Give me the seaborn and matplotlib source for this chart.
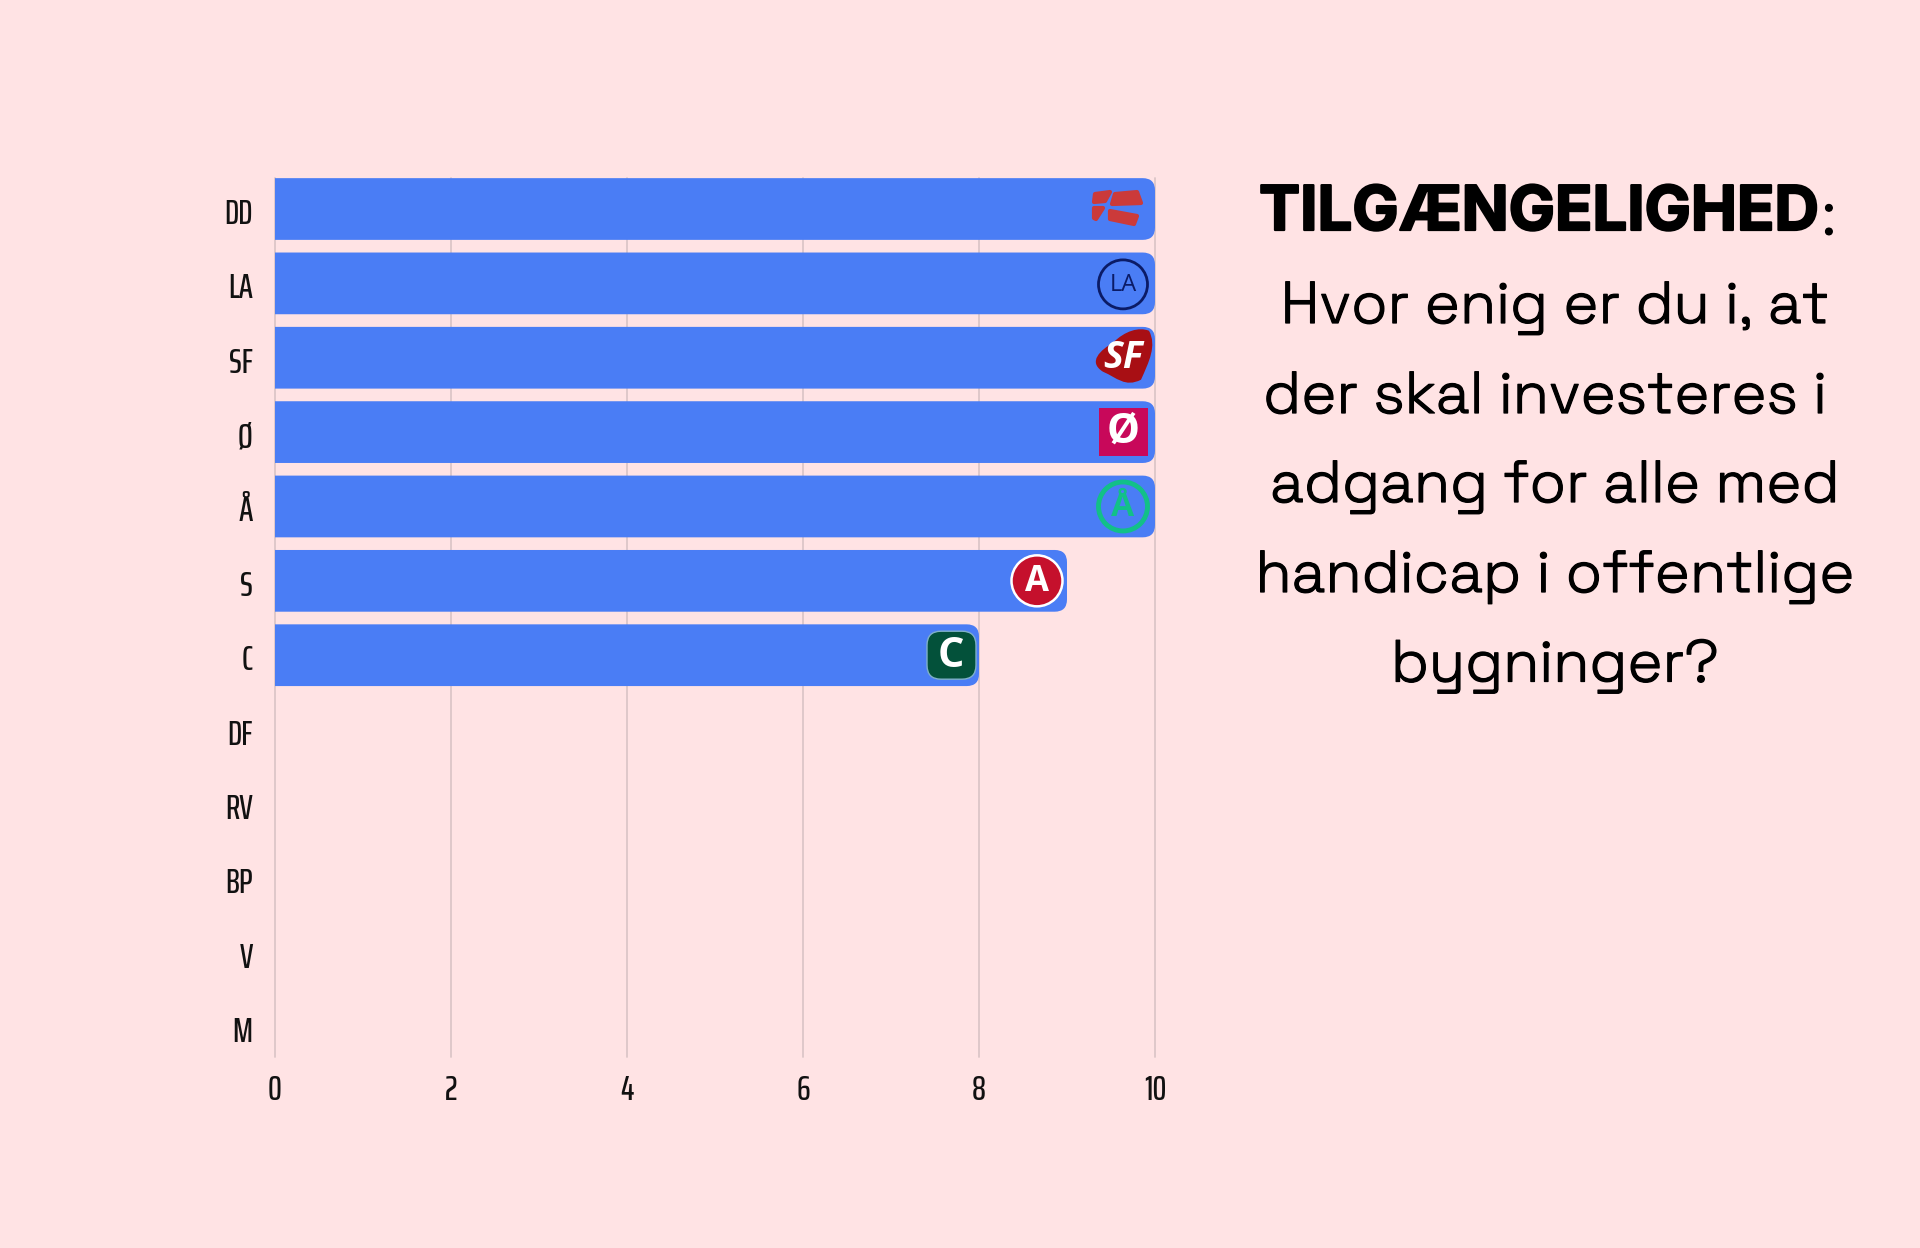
import matplotlib
matplotlib.use("Agg")
import matplotlib.pyplot as plt
import matplotlib.patheffects as pe
import pandas as pd
import seaborn as sns
from matplotlib.patches import Ellipse, FancyBboxPatch, PathPatch, Polygon, Rectangle
from matplotlib.path import Path
from matplotlib.transforms import ScaledTranslation

partier = ["DD", "LA", "SF", "Ø", "Å", "S", "C", "DF", "RV", "BP", "V", "M"]
vaerdier = [10, 10, 10, 10, 10, 9, 8, 0, 0, 0, 0, 0]
x_ticks = [0, 2, 4, 6, 8, 10]

BG = "#FFE3E4"
BLUE = "#4A7DF5"
NARROW = ["Saira ExtraCondensed", "Liberation Sans", "DejaVu Sans"]
TITLE_FONT = ["Space Grotesk", "Inter", "DejaVu Sans"]
BOLD_FONT = ["Inter", "DejaVu Sans"]

W, H = 1920, 1248
sns.set_theme(style="white")
plt.rcParams["font.family"] = ["Inter", "DejaVu Sans"]

fig = plt.figure(figsize=(W / 100, H / 100), dpi=100, facecolor=BG)
# akse i pixels: 275-1155 vandret, 178-1057 lodret
ax = fig.add_axes([275 / W, 1 - 1057 / H, 880 / W, 879 / H], facecolor=BG)

df = pd.DataFrame({"parti": partier, "vaerdi": vaerdier})
sns.barplot(data=df, y="parti", x="vaerdi", color=BLUE, saturation=1, width=0.83, ax=ax, zorder=3)

ax.set_xlim(0, 10)
ax.set_ylim(11.403, -0.417)
PX_X = 880 / 10
PX_Y = 74.4

# runde hjoerner paa hoejre side
for bar in list(ax.patches):
    w = bar.get_width()
    bar.set_visible(False)
    if w <= 0:
        continue
    r = FancyBboxPatch((-0.5, bar.get_y()), w + 0.5, bar.get_height(),
                       boxstyle="round,pad=0,rounding_size=0.14", mutation_aspect=PX_X / PX_Y,
                       fc=BLUE, ec="none", zorder=3)
    ax.add_patch(r)

ax.set_xlabel("")
ax.set_ylabel("")
ax.set_xticks(x_ticks)
ax.grid(axis="x", color="#DCC6C8", lw=1.3, zorder=0)
ax.grid(axis="y", visible=False)
ax.set_axisbelow(True)
for g in ax.get_xgridlines():
    g.set_clip_on(False)
sns.despine(ax=ax, left=True, bottom=True)
ax.tick_params(axis="both", length=0, labelcolor="#111111")
ax.tick_params(axis="y", pad=16)
ax.tick_params(axis="x", pad=12.5)
for t in ax.get_xticklabels() + ax.get_yticklabels():
    t.set_family(NARROW)
    t.set_fontsize(25)
    t.set_fontweight(500)
# labels sidder lidt under midten af bjaelken
for t in ax.get_yticklabels():
    t.set_transform(t.get_transform() + ScaledTranslation(0, -2 / 100, fig.dpi_scale_trans))


def px(i, dx, dy):
    # dx, dy i pixels fra enden af bjaelken i raekke i
    return vaerdier[i] + dx / PX_X, i + dy / PX_Y


def ell(i, dx, dy, r, **kw):
    xy = px(i, dx, dy)
    ax.add_patch(Ellipse(xy, 2 * r / PX_X, 2 * r / PX_Y, zorder=4, **kw))


def txt(i, dx, dy, s, size, color, **kw):
    x, y = px(i, dx, dy)
    return ax.text(x, y, s, fontsize=size, color=color, ha="center", va="center", zorder=5,
                   family=["Open Sans", "DejaVu Sans"], **kw)


# DD flag
DD_RED = "#CB3A3A"
dd_shapes = [
    [(-60, -15), (-45, -17), (-50, -8), (-61, -7)],
    [(-61, -1), (-52, -1), (-59, 10), (-61, 9)],
    [(-40, -15), (-18, -17), (-14, -6), (-43, -5)],
    [(-45, 2), (-18, 7), (-21, 15), (-45, 10)],
]
for s in dd_shapes:
    ax.add_patch(Polygon([px(0, a, b) for a, b in s], closed=True, fc=DD_RED, ec=DD_RED,
                         lw=3, joinstyle="round", zorder=4))

# LA
ell(1, -32, 1, 24.5, fc="none", ec="#0B1B66", lw=2)
txt(1, -32, 2, "LA", 17, "#0B1B66")

# SF
sf_pts = [(-6, -27), (-16, -31), (-30, -27), (-42, -15), (-54, -8), (-68, 4), (-52, 14), (-38, 20),
          (-30, 30), (-14, 22), (-6, 4), (2, -12), (-6, -27)]
sf_codes = [Path.MOVETO] + [Path.CURVE4] * 12
ax.add_patch(PathPatch(Path([px(2, a, b) for a, b in sf_pts], sf_codes), fc="#A80F14", ec="none", zorder=4))
txt(2, -32, 0, "SF", 27, "white", fontweight="bold", style="italic")

# Oe
x0, y0 = px(3, -56, -24)
ax.add_patch(Rectangle((x0, y0), 49 / PX_X, 48 / PX_Y, fc="#C8085A", ec="none", zorder=4))
txt(3, -32, 0, "Ø", 30, "white", fontweight="bold")

# Aa
ell(4, -32, 0, 24.5, fc="none", ec="#12C088", lw=3.5)
txt(4, -32, 1, "Å", 24, "#12C088", fontweight="bold")

# A
ell(5, -30, 0, 25.5, fc="#C5102C", ec="white", lw=1.8)
txt(5, -30, 1, "A", 25, "white", fontweight="bold")

# C
x0, y0 = px(6, -52, -24)
ax.add_patch(FancyBboxPatch((x0 + 14 / PX_X, y0 + 14 / PX_Y), 21 / PX_X, 20 / PX_Y,
                            boxstyle=f"round,pad={14 / PX_X},rounding_size={14 / PX_X}",
                            mutation_aspect=PX_X / PX_Y, fc="#03513A", ec="#7FB0C8", lw=1, zorder=4))
txt(6, -28, 1, "C", 30, "white", fontweight="bold")

# titel
title_lines = [
    (1555, 308, "Hvor enig er du i, at"),
    (1545, 398, "der skal investeres i"),
    (1555, 487, "adgang for alle med"),
    (1555, 577, "handicap i offentlige"),
    (1555, 666, "bygninger?"),
]
TS = 42.5
thin = [pe.withStroke(linewidth=0.9, foreground="black")]
thick = [pe.withStroke(linewidth=1.6, foreground="black")]
fig.text(1259 / W, 1 - 214 / H, "TILGÆNGELIGHED", fontsize=44.4, fontweight="bold", family=BOLD_FONT,
         color="black", ha="left", va="center", path_effects=thick)
fig.text(1822 / W, 1 - 219 / H, ":", fontsize=TS, family=TITLE_FONT, color="black", ha="left", va="center",
         path_effects=thin)
for x, y, s in title_lines:
    fig.text(x / W, 1 - y / H, s, fontsize=TS, family=TITLE_FONT, color="black", ha="center", va="center",
             path_effects=thin)

fig.savefig("out.png", dpi=100, facecolor=BG)
